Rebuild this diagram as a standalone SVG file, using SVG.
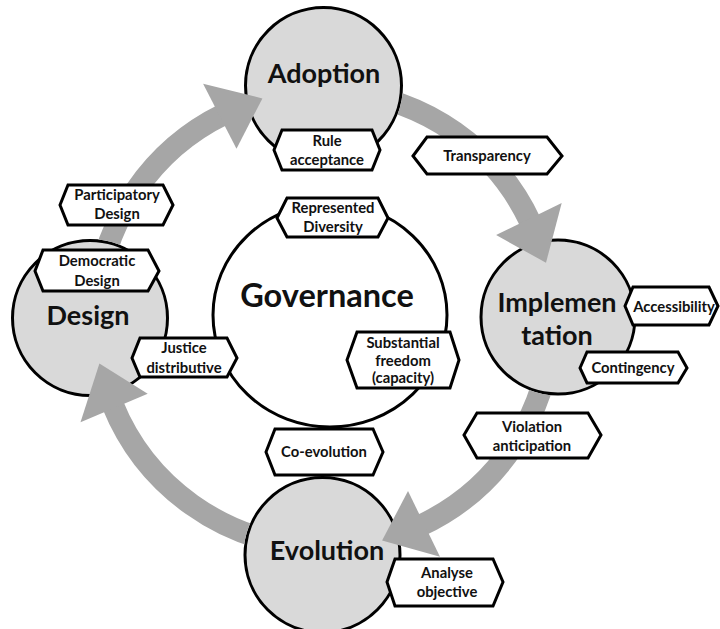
<svg xmlns="http://www.w3.org/2000/svg" width="720" height="629" viewBox="0 0 720 629">
  <style>
    .stage { fill: #d9d9d9; stroke: #000; stroke-width: 3; }
    .gov { fill: #fff; stroke: #000; stroke-width: 3; }
    .hex { fill: #fff; stroke: #000; stroke-width: 3; stroke-linejoin: miter; }
    .shaft { fill: none; stroke: #a6a6a6; stroke-width: 22; stroke-linecap: butt; }
    .head { fill: #a6a6a6; }
    text { font-family: Lato, "Open Sans", "Liberation Sans", sans-serif; font-weight: 700; fill: #111; text-anchor: middle; }
    .big { font-size: 27px; }
    .gtitle { font-size: 32.5px; }
    .lbl { font-size: 14.8px; }
  </style>
  <defs>
    <mask id="outsideNodes" maskUnits="userSpaceOnUse" x="0" y="0" width="720" height="629">
      <rect x="0" y="0" width="720" height="629" fill="#fff"/>
      <circle cx="323.5" cy="85.5" r="79.5" fill="#000"/>
      <circle cx="558" cy="317" r="78.5" fill="#000"/>
      <circle cx="322.5" cy="555" r="79" fill="#000"/>
      <circle cx="90" cy="318" r="79" fill="#000"/>
    </mask>
  </defs>

  <rect x="0" y="0" width="720" height="629" fill="#fff"/>

  <!-- Stage nodes -->
  <g id="node-adoption">
    <circle class="stage" cx="323.5" cy="85.5" r="78"/>
    <text class="big" x="324" y="83">Adoption</text>
  </g>
  <g id="node-implementation">
    <circle class="stage" cx="558" cy="317" r="77"/>
    <text class="big" x="557" y="312">Implemen</text>
    <text class="big" x="557" y="345">tation</text>
  </g>
  <g id="node-evolution">
    <circle class="stage" cx="322.5" cy="555" r="77.5"/>
    <text class="big" x="327" y="560">Evolution</text>
  </g>
  <g id="node-design">
    <circle class="stage" cx="90" cy="318" r="77.5"/>
    <text class="big" x="88" y="325">Design</text>
  </g>
  <g id="node-governance">
    <ellipse class="gov" cx="330" cy="315" rx="117" ry="112"/>
    <text class="gtitle" x="327" y="307">Governance</text>
  </g>

  <!-- Connectors: cycle arrows -->
  <g id="connectors">
    <g mask="url(#outsideNodes)">
      <path class="shaft" d="M 96.9 299.1 A 228 228 0 0 1 224.1 114.1"/>
      <path class="shaft" d="M 343.9 91.9 A 228 228 0 0 1 530.6 222.6"/>
      <path class="shaft" d="M 551.7 330.9 A 228 228 0 0 1 420.4 525.6"/>
      <path class="shaft" d="M 312.1 546.7 A 228 228 0 0 1 112.6 404.4"/>
    </g>
    <polygon class="head" points="203.1,83.8 262.4,98.4 236.5,148.7"/>
    <polygon class="head" points="561.7,203.0 546.0,262.8 496.1,235.0"/>
    <polygon class="head" points="440.0,556.7 382.1,540.5 408.0,491.1"/>
    <polygon class="head" points="80.5,422.3 99.4,363.5 147.7,393.8"/>
  </g>

  <!-- Hexagon labels -->
  <g id="label-rule-acceptance">
    <polygon class="hex" points="274,150 282,130 372,130 380,150 372,170 282,170"/>
    <text class="lbl" x="327" y="146">Rule</text>
    <text class="lbl" x="327" y="165">acceptance</text>
  </g>
  <g id="label-transparency">
    <polygon class="hex" points="413,156 427,137 547,137 562,156 547,174 427,174"/>
    <text class="lbl" x="487" y="161">Transparency</text>
  </g>
  <g id="label-participatory-design">
    <polygon class="hex" points="60,205 68,185 163,185 173,205 163,225 68,225"/>
    <text class="lbl" x="117" y="200">Participatory</text>
    <text class="lbl" x="117" y="219">Design</text>
  </g>
  <g id="label-democratic-design">
    <polygon class="hex" points="35,271 43,250 148,250 159,271 148,291 43,291"/>
    <text class="lbl" x="97" y="266">Democratic</text>
    <text class="lbl" x="97" y="286">Design</text>
  </g>
  <g id="label-justice-distributive">
    <polygon class="hex" points="132,358 140,338 227,338 237,358 227,377 140,377"/>
    <text class="lbl" x="184" y="353">Justice</text>
    <text class="lbl" x="184" y="373">distributive</text>
  </g>
  <g id="label-represented-diversity">
    <polygon class="hex" points="277,218 287,198 378,198 388,218 378,237 287,237"/>
    <text class="lbl" x="333" y="213">Represented</text>
    <text class="lbl" x="333" y="232">Diversity</text>
  </g>
  <g id="label-substantial-freedom">
    <polygon class="hex" points="347,360 357,332 450,332 459,360 450,388 357,388"/>
    <text class="lbl" x="403" y="348">Substantial</text>
    <text class="lbl" x="403" y="366">freedom</text>
    <text class="lbl" x="403" y="383">(capacity)</text>
  </g>
  <g id="label-co-evolution">
    <polygon class="hex" points="266,452 275,429 373,429 383,452 373,475 275,475"/>
    <text class="lbl" x="324" y="457">Co-evolution</text>
  </g>
  <g id="label-analyse-objective">
    <polygon class="hex" points="387,582 395,559 493,559 503,582 493,606 395,606"/>
    <text class="lbl" x="447" y="578">Analyse</text>
    <text class="lbl" x="447" y="597">objective</text>
  </g>
  <g id="label-violation-anticipation">
    <polygon class="hex" points="464,435 477,413 588,413 601,435 588,458 477,458"/>
    <text class="lbl" x="532" y="432">Violation</text>
    <text class="lbl" x="532" y="451">anticipation</text>
  </g>
  <g id="label-accessibility">
    <polygon class="hex" points="625,306 633,287 709,287 718,306 709,325 633,325"/>
    <text class="lbl" x="674" y="312">Accessibility</text>
  </g>
  <g id="label-contingency">
    <polygon class="hex" points="580,368 587,352 678,352 687,368 678,383 587,383"/>
    <text class="lbl" x="633" y="373">Contingency</text>
  </g>
</svg>
